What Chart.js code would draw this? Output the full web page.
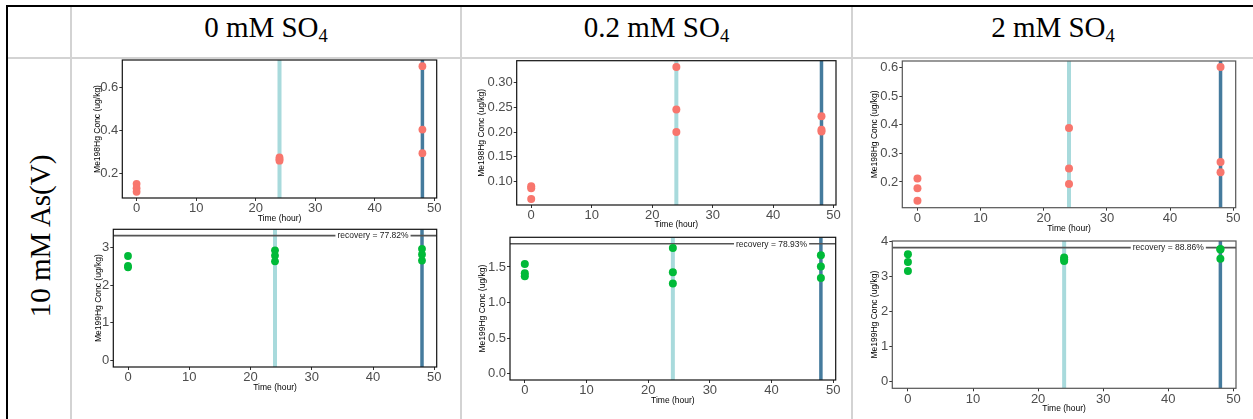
<!DOCTYPE html>
<html>
<head>
<meta charset="utf-8">
<script src="https://cdn.jsdelivr.net/npm/chart.js@4.4.1/dist/chart.umd.min.js"></script>
<style>
html, body { margin: 0; padding: 0; background: #fff; }
body { width: 1253px; height: 419px; position: relative; overflow: hidden; font-family: "Liberation Serif", "Times New Roman", serif; }
.ln { position: absolute; }
.hd { position: absolute; top: 5px; height: 44px; line-height: 44px; text-align: center; font-size: 29px; color: #000; white-space: nowrap; }
.hd sub { font-size: 0.64em; vertical-align: -0.26em; line-height: 0; }
.rowlab { position: absolute; left: 40px; top: 236px; font-size: 29px; white-space: nowrap; transform: translate(-50%, -50%) rotate(-90deg); }
canvas { position: absolute; }
</style>
</head>
<body>
<!-- table frame -->
<div class="ln" style="left:6px;top:5px;width:1247px;height:2px;background:#000"></div>
<div class="ln" style="left:6px;top:5px;width:2px;height:414px;background:#000"></div>
<div class="ln" style="left:8px;top:57px;width:1245px;height:2px;background:#d3d3d3"></div>
<div class="ln" style="left:70px;top:7px;width:2px;height:412px;background:#d3d3d3"></div>
<div class="ln" style="left:460px;top:7px;width:2px;height:412px;background:#d3d3d3"></div>
<div class="ln" style="left:851px;top:7px;width:2px;height:412px;background:#d3d3d3"></div>

<div class="hd" style="left:72px;width:388px">0 mM SO<sub>4</sub></div>
<div class="hd" style="left:462px;width:389px">0.2 mM SO<sub>4</sub></div>
<div class="hd" style="left:853px;width:400px">2 mM SO<sub>4</sub></div>
<div class="rowlab">10 mM As(V)</div>

<script>
// sampling times (three replicates each)
const hours = [0, 0, 0, 24, 24, 24, 48, 48, 48];

// Me198Hg, ug/kg
const me198_0 = [0.152, 0.132, 0.115, 0.275, 0.267, 0.260, 0.700, 0.405, 0.295];
const me198_02 = [0.090, 0.086, 0.064, 0.332, 0.246, 0.200, 0.232, 0.205, 0.201];
const me198_2 = [0.212, 0.178, 0.134, 0.389, 0.247, 0.193, 0.602, 0.270, 0.234];

// Me199Hg, ug/kg
const me199_0 = [2.77, 2.51, 2.47, 2.92, 2.78, 2.63, 2.96, 2.81, 2.65];
const me199_02 = [1.54, 1.41, 1.37, 1.766, 1.425, 1.267, 1.663, 1.505, 1.346];
const me199_2 = [3.64, 3.42, 3.16, 3.55, 3.50, 3.45, 3.79, 3.78, 3.51];

// recovery reference line
const recovery = [3.31, 1.826, 3.83];
const recoveryText = ['recovery = 77.82%', 'recovery = 78.93%', 'recovery = 88.86%'];
const labelHour = 40;

// marker lines at 24 h and 48 h
const markHours = [24, 48];

// axis ticks and ranges
const timeTicks = [0, 10, 20, 30, 40, 50];
const timeRange = [-2.4, 50.4];
const ticks198_0 = ['0.2', '0.4', '0.6'];
const ticks198_02 = ['0.10', '0.15', '0.20', '0.25', '0.30'];
const ticks198_2 = ['0.2', '0.3', '0.4', '0.5', '0.6'];
const ticks199_0 = ['0', '1', '2', '3'];
const ticks199_02 = ['0.0', '0.5', '1.0', '1.5'];
const ticks199_2 = ['0', '1', '2', '3', '4'];
const range198 = [[0.086, 0.729], [0.052, 0.345], [0.110, 0.623]];
const range199 = [[-0.166, 3.476], [-0.091, 1.917], [-0.19, 4.02]];

const red = '#F8766D';
const green = '#00BA38';
const markColors = ['#A8DADC', '#457B9D'];
const markWidths = [4, 3.5];
const sans = '"Liberation Sans", Arial, Helvetica, sans-serif';

// panel placement on the page: plot box [left, top, right, bottom]
const panels = [
  { box: [122.3, 60, 436.7, 198], yTitleX: 98, xTitleY: 218.3, vals: me198_0, ticks: ticks198_0, range: range198[0], color: red, title: 'Me198Hg Conc (ug/kg)', r: 3.9, frame: '#111' },
  { box: [113.3, 229.3, 436.7, 367], yTitleX: 98.3, xTitleY: 387.3, vals: me199_0, ticks: ticks199_0, range: range199[0], color: green, title: 'Me199Hg Conc (ug/kg)', r: 3.9, frame: '#111', rec: 0 },
  { box: [516.7, 60.7, 836, 205], yTitleX: 481.7, xTitleY: 225, vals: me198_02, ticks: ticks198_02, range: range198[1], color: red, title: 'Me198Hg Conc (ug/kg)', r: 4, frame: '#111' },
  { box: [510, 237.3, 835.7, 380], yTitleX: 482.7, xTitleY: 400.7, vals: me199_02, ticks: ticks199_02, range: range199[1], color: green, title: 'Me199Hg Conc (ug/kg)', r: 4, frame: '#111', rec: 1 },
  { box: [902.3, 61, 1235.7, 207.7], yTitleX: 875, xTitleY: 228.3, vals: me198_2, ticks: ticks198_2, range: range198[2], color: red, title: 'Me198Hg Conc (ug/kg)', r: 4, frame: '#555' },
  { box: [892.3, 241, 1236, 388.3], yTitleX: 875, xTitleY: 408.3, vals: me199_2, ticks: ticks199_2, range: range199[2], color: green, title: 'Me199Hg Conc (ug/kg)', r: 4, frame: '#555', rec: 2 }
];

const overlay = {
  id: 'overlay',
  beforeDatasetsDraw(chart, args, opts) {
    const { ctx, chartArea: a, scales: { x, y } } = chart;
    ctx.save();
    ctx.beginPath();
    ctx.rect(a.left, a.top, a.right - a.left, a.bottom - a.top);
    ctx.clip();
    markHours.forEach((h, i) => {
      const px = x.getPixelForValue(h);
      ctx.strokeStyle = markColors[i];
      ctx.lineWidth = markWidths[i];
      ctx.beginPath();
      ctx.moveTo(px, a.top);
      ctx.lineTo(px, a.bottom);
      ctx.stroke();
    });
    if (opts.rec != null) {
      const py = y.getPixelForValue(recovery[opts.rec]);
      ctx.strokeStyle = '#555';
      ctx.lineWidth = 1.6;
      ctx.beginPath();
      ctx.moveTo(a.left, py);
      ctx.lineTo(a.right, py);
      ctx.stroke();
      const txt = recoveryText[opts.rec];
      ctx.font = '8.5px ' + sans;
      const w = ctx.measureText(txt).width;
      const cx = x.getPixelForValue(labelHour);
      ctx.fillStyle = '#fff';
      ctx.fillRect(cx - w / 2 - 2, py - 5.5, w + 4, 11);
      ctx.fillStyle = '#1a1a1a';
      ctx.textAlign = 'center';
      ctx.textBaseline = 'middle';
      ctx.fillText(txt, cx, py + 0.5);
    }
    ctx.restore();
  },
  afterDatasetsDraw(chart, args, opts) {
    const { ctx, chartArea: a } = chart;
    ctx.save();
    ctx.strokeStyle = opts.frame;
    ctx.lineWidth = 1.2;
    ctx.strokeRect(a.left, a.top, a.right - a.left, a.bottom - a.top);
    ctx.restore();
  }
};

function makePanel(p) {
  const [pl, pt, pr, pb] = p.box;
  const cl = Math.floor(p.yTitleX - 6);
  const ct = Math.floor(pt - 9);
  const cr = Math.ceil(pr + 10);
  const cb = Math.ceil(p.xTitleY + 5.1);
  const cv = document.createElement('canvas');
  cv.width = cr - cl;
  cv.height = cb - ct;
  cv.style.left = cl + 'px';
  cv.style.top = ct + 'px';
  cv.style.width = (cr - cl) + 'px';
  cv.style.height = (cb - ct) + 'px';
  document.body.appendChild(cv);

  const tickFont = { family: sans, size: 13 };
  const grid = { display: true, drawOnChartArea: false, drawTicks: true, tickLength: 3, tickColor: '#333', tickWidth: 1 };

  new Chart(cv, {
    type: 'scatter',
    data: {
      datasets: [{
        data: hours.map((h, i) => ({ x: h, y: p.vals[i] })),
        backgroundColor: p.color,
        borderWidth: 0,
        pointRadius: p.r,
        pointHoverRadius: p.r
      }]
    },
    options: {
      responsive: false,
      animation: false,
      events: [],
      layout: { padding: { left: 0, top: pt - ct, right: cr - pr, bottom: 0 } },
      plugins: {
        legend: { display: false },
        tooltip: { enabled: false },
        overlay: { rec: p.rec, frame: p.frame }
      },
      scales: {
        x: {
          type: 'linear',
          min: timeRange[0],
          max: timeRange[1],
          afterBuildTicks: s => { s.ticks = timeTicks.map(v => ({ value: v })); },
          afterFit: s => { s.height = cb - pb; },
          ticks: { font: tickFont, color: '#4d4d4d', padding: 0, autoSkip: false, maxRotation: 0, callback: v => String(v) },
          grid: grid,
          border: { display: false },
          title: { display: true, text: 'Time (hour)', color: '#000', font: { family: sans, size: 8.5 }, padding: { top: 0, bottom: cb - (p.xTitleY + 5.1) } }
        },
        y: {
          type: 'linear',
          min: p.range[0],
          max: p.range[1],
          afterBuildTicks: s => { s.ticks = p.ticks.map(t => ({ value: parseFloat(t) })); },
          afterFit: s => { s.width = pl - cl; },
          ticks: { font: tickFont, color: '#4d4d4d', padding: 1, autoSkip: false, callback: (v, i) => p.ticks[i] },
          grid: grid,
          border: { display: false },
          title: { display: true, text: p.title, color: '#000', font: { family: sans, size: 8.5 }, padding: { top: p.yTitleX - cl - 5.1, bottom: 0 } }
        }
      }
    },
    plugins: [overlay]
  });
}

panels.forEach(makePanel);
</script>
</body>
</html>
